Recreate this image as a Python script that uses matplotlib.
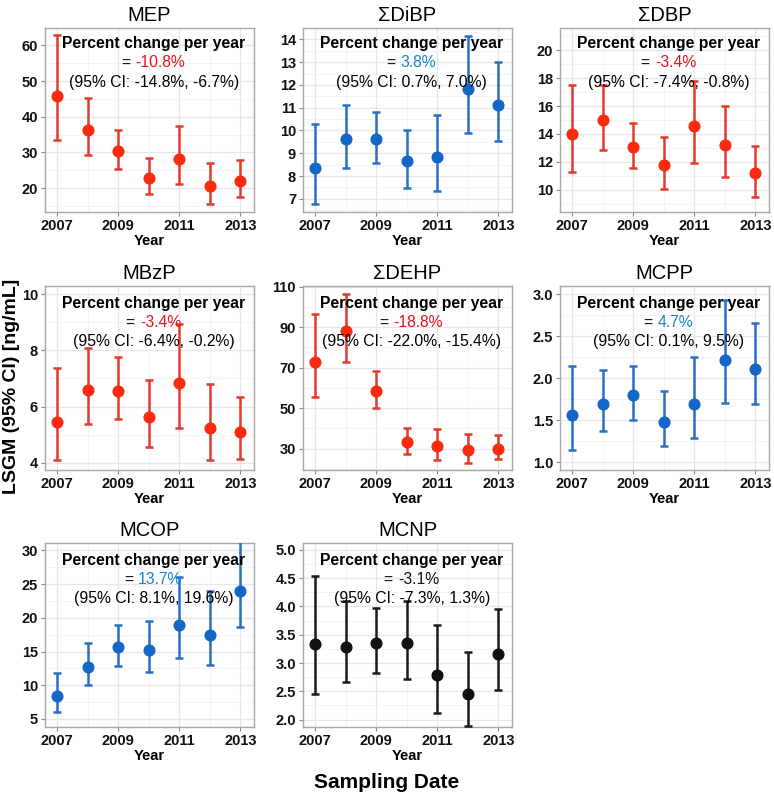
#!/usr/bin/env python3

import numpy as np
import matplotlib.pyplot as plt
from matplotlib.offsetbox import TextArea, HPacker, AnnotationBbox
from matplotlib.ticker import MultipleLocator

plt.rcParams['font.family'] = ['Liberation Sans', 'DejaVu Sans']

years = [2007, 2008, 2009, 2010, 2011, 2012, 2013]

names = ['MEP', '\u03a3DiBP', '\u03a3DBP', 'MBzP', '\u03a3DEHP', 'MCPP', 'MCOP', 'MCNP']
trend = ['down', 'up', 'down', 'down', 'down', 'up', 'up', 'flat']

mep = [45.7, 36.4, 30.4, 22.8, 28.1, 20.5, 22.1]
mep_lo = [33.4, 29.3, 25.4, 18.3, 21.2, 15.6, 17.4]
mep_hi = [63.0, 45.2, 36.2, 28.5, 37.5, 27.0, 27.8]

dibp = [8.34, 9.61, 9.61, 8.64, 8.85, 11.8, 11.14]
dibp_lo = [6.78, 8.34, 8.56, 7.47, 7.35, 9.87, 9.55]
dibp_hi = [10.28, 11.1, 10.82, 10.03, 10.7, 14.15, 12.99]

dbp = [14.02, 15.0, 13.05, 11.74, 14.6, 13.21, 11.17]
dbp_lo = [11.24, 12.88, 11.55, 10.05, 11.95, 10.93, 9.5]
dbp_hi = [17.5, 17.5, 14.76, 13.79, 17.83, 15.98, 13.17]

mbzp = [5.46, 6.58, 6.56, 5.63, 6.83, 5.25, 5.11]
mbzp_lo = [4.1, 5.37, 5.57, 4.56, 5.25, 4.1, 4.12]
mbzp_hi = [7.36, 8.08, 7.75, 6.94, 8.94, 6.8, 6.35]

dehp = [73.0, 88.0, 58.4, 33.0, 31.2, 29.3, 30.0]
dehp_lo = [55.3, 72.6, 50.2, 27.2, 24.4, 23.1, 24.7]
dehp_hi = [96.3, 106.5, 68.3, 40.2, 39.9, 37.1, 36.6]

mcpp = [1.565, 1.70, 1.80, 1.48, 1.70, 2.22, 2.11]
mcpp_lo = [1.15, 1.37, 1.51, 1.19, 1.29, 1.71, 1.69]
mcpp_hi = [2.145, 2.10, 2.145, 1.85, 2.25, 2.93, 2.66]

mcop = [8.37, 12.72, 15.6, 15.2, 19.0, 17.48, 24.0]
mcop_lo = [5.99, 10.1, 12.92, 11.93, 14.0, 13.0, 18.6]
mcop_hi = [11.83, 16.19, 19.0, 19.5, 26.04, 23.96, 31.5]

mcnp = [3.34, 3.29, 3.36, 3.36, 2.78, 2.45, 3.16]
mcnp_lo = [2.46, 2.66, 2.83, 2.71, 2.11, 1.88, 2.52]
mcnp_hi = [4.54, 4.09, 3.97, 4.1, 3.67, 3.19, 3.96]

pct = ['-10.8%', '3.8%', '-3.4%', '-3.4%', '-18.8%', '4.7%', '13.7%', '-3.1%']
ci = ['(95% CI: -14.8%, -6.7%)', '(95% CI: 0.7%, 7.0%)', '(95% CI: -7.4%, -0.8%)',
      '(95% CI: -6.4%, -0.2%)', '(95% CI: -22.0%, -15.4%)', '(95% CI: 0.1%, 9.5%)',
      '(95% CI: 8.1%, 19.6%)', '(95% CI: -7.3%, 1.3%)']

ylims = [(13.3, 64.9), (6.42, 14.5), (8.4, 21.6), (3.74, 10.29),
         (19.4, 110.3), (0.91, 3.1), (3.8, 31.1), (1.87, 5.12)]
ysteps = [10, 1, 2, 2, 20, 0.5, 5, 0.5]
yfirst = [20, 7, 10, 4, 30, 1.0, 5, 2.0]
yfmt = ['{:.0f}', '{:.0f}', '{:.0f}', '{:.0f}', '{:.0f}', '{:.1f}', '{:.0f}', '{:.1f}']

means = [mep, dibp, dbp, mbzp, dehp, mcpp, mcop, mcnp]
lows = [mep_lo, dibp_lo, dbp_lo, mbzp_lo, dehp_lo, mcpp_lo, mcop_lo, mcnp_lo]
highs = [mep_hi, dibp_hi, dbp_hi, mbzp_hi, dehp_hi, mcpp_hi, mcop_hi, mcnp_hi]

point_col = {'down': '#fa2a0e', 'up': '#1466c8', 'flat': '#111111'}
bar_col = {'down': '#e23a2c', 'up': '#2a6ec4', 'flat': '#1a1a1a'}
text_col = {'down': '#e3141e', 'up': '#1a85c6', 'flat': '#111111'}

W, H = 774, 795
fig = plt.figure(figsize=(W / 100, H / 100), dpi=100)

lefts = [45, 303, 560]
tops = [28, 286, 543]
pw, ph = 209, 184

for i, name in enumerate(names):
    r, c = divmod(i, 3)
    ax = fig.add_axes([lefts[c] / W, (H - tops[r] - ph) / H, pw / W, ph / H])
    t = trend[i]
    m = np.array(means[i])
    lo = m - np.array(lows[i])
    hi = np.array(highs[i]) - m
    ax.errorbar(years, m, yerr=[lo, hi], fmt='none', ecolor=bar_col[t],
                elinewidth=1.8, capsize=3.2, capthick=1.8, zorder=3)
    ax.plot(years, m, 'o', color=point_col[t], markersize=7.7, zorder=4)

    ax.set_xlim(2006.6, 2013.45)
    ax.set_ylim(*ylims[i])
    ax.set_xticks([2007, 2009, 2011, 2013])
    ax.set_xticks([2008, 2010, 2012], minor=True)
    yt = np.arange(yfirst[i], ylims[i][1] + 1e-9, ysteps[i])
    ax.set_yticks(yt)
    ax.set_yticklabels([yfmt[i].format(v) for v in yt])
    ax.yaxis.set_minor_locator(MultipleLocator(ysteps[i] / 2))
    ax.grid(True, which='major', color='#e6e6ec', linewidth=0.9)
    ax.grid(True, which='minor', color='#f0f0f4', linewidth=0.5)
    ax.set_axisbelow(True)
    for sp in ax.spines.values():
        sp.set_color('#a8a8a8')
        sp.set_linewidth(1.0)
    ax.tick_params(which='major', length=3, width=0.8, color='#888888', pad=2,
                   labelsize=10.5, labelcolor='#111111')
    ax.tick_params(which='minor', length=0)
    for lab in ax.get_xticklabels() + ax.get_yticklabels():
        lab.set_fontweight('bold')
    ax.set_xlabel('Year', fontsize=10.5, fontweight='bold', labelpad=1)
    ax.set_title(name, fontsize=14.5, pad=5)

    # annotation: three centred lines, middle one two-coloured
    ty = [0.915, 0.81, 0.705] if r == 0 else [0.905, 0.80, 0.697]
    ax.text(0.52, ty[0], 'Percent change per year', transform=ax.transAxes,
            ha='center', va='center', fontsize=11.3, fontweight='bold', zorder=5)
    eq = HPacker(children=[TextArea('= ', textprops=dict(fontsize=11.3, color='#111111')),
                           TextArea(pct[i], textprops=dict(fontsize=11.3, color=text_col[t]))],
                 pad=0, sep=0, align='baseline')
    ab = AnnotationBbox(eq, (0.52, ty[1]), xycoords='axes fraction', frameon=False,
                        box_alignment=(0.5, 0.5), pad=0, zorder=5)
    ax.add_artist(ab)
    ax.text(0.52, ty[2], ci[i], transform=ax.transAxes, ha='center', va='center',
            fontsize=11.3, zorder=5)

fig.text(12 / W, 1 - 386 / H, 'LSGM (95% CI) [ng/mL]', rotation=90, ha='center',
         va='center', fontsize=14, fontweight='bold')
fig.text(387 / W, 1 - 782 / H, 'Sampling Date', ha='center', va='center',
         fontsize=15, fontweight='bold')

fig.savefig('out.png', dpi=100, facecolor='white')
